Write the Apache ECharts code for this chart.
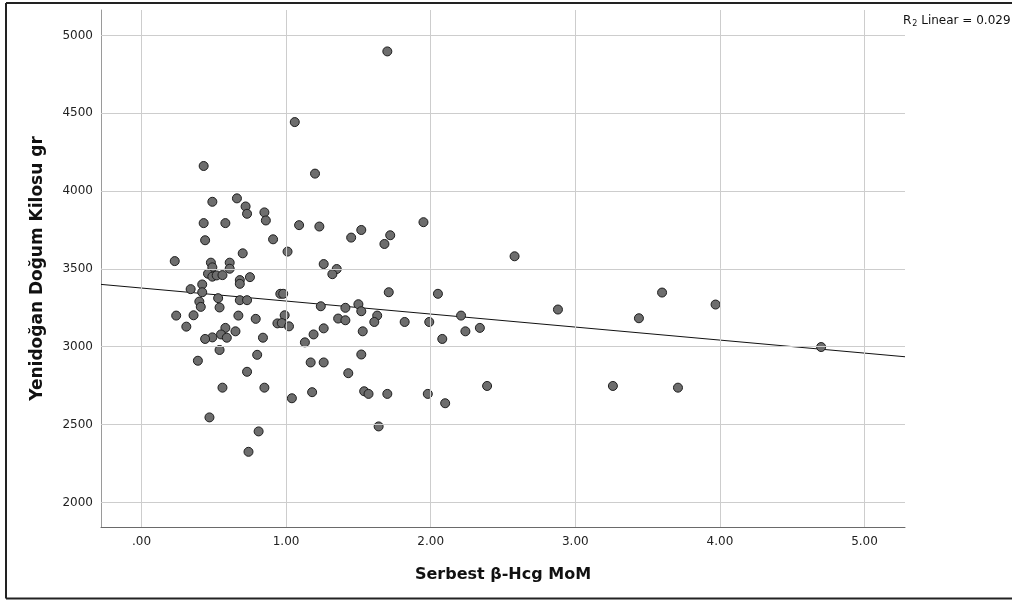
<!DOCTYPE html>
<html>
<head>
<meta charset="utf-8">
<script src="https://cdn.jsdelivr.net/npm/echarts@6/dist/echarts.min.js"></script>
<style>
html,body{margin:0;padding:0;background:#fff;}
#chart{width:1012px;height:601px;}
</style>
</head>
<body>
<div id="chart"></div>
<script>
// ---- data ----
const xVals = [0.43,0.49,0.66,0.72,0.73,0.85,0.86,0.43,0.58,0.44,0.91,0.70,0.23,0.48,0.49,0.61,0.61,0.46,0.49,0.52,
  0.56,0.68,0.68,0.75,0.34,0.42,0.42,0.53,0.40,0.41,0.54,0.68,0.73,0.24,0.36,0.67,0.79,0.31,0.58,0.55,
  0.59,0.49,0.44,0.65,0.84,0.54,0.80,0.39,0.73,0.56,0.85,0.47,0.81,0.74,1.06,1.20,1.09,1.23,1.45,1.52,
  1.68,1.72,1.95,1.01,1.26,1.35,1.32,0.96,0.98,1.71,2.05,1.24,1.41,1.50,1.52,1.63,1.61,1.82,1.99,0.99,
  0.94,0.97,1.02,1.36,1.41,1.26,1.19,1.13,1.53,1.17,1.26,1.52,1.43,1.18,1.04,1.54,1.57,1.70,1.98,1.64,
  2.58,2.21,2.24,2.34,2.08,2.88,3.44,3.60,3.97,4.70,2.10,2.39,3.26,3.71,1.70];
const yVals = [4161,3931,3953,3901,3854,3863,3811,3794,3794,3684,3690,3600,3550,3540,3510,3540,3501,3469,3450,3458,
  3460,3428,3404,3447,3370,3400,3350,3312,3290,3256,3252,3299,3299,3200,3202,3200,3179,3129,3121,3079,
  3058,3060,3050,3099,3058,2979,2948,2910,2839,2737,2737,2546,2456,2325,4443,4112,3781,3772,3701,3750,
  3660,3716,3800,3611,3531,3499,3466,3340,3340,3350,3340,3260,3250,3273,3228,3200,3159,3159,3159,3202,
  3150,3152,3131,3181,3170,3118,3079,3028,3099,2899,2899,2950,2830,2708,2669,2714,2697,2697,2697,2488,
  3581,3200,3099,3121,3050,3239,3183,3348,3271,2998,2637,2748,2748,2737,4897];
const xTicks = [0,1,2,3,4,5];
const xTickLabels = ['.00','1.00','2.00','3.00','4.00','5.00'];
const yTicks = [2000,2500,3000,3500,4000,4500,5000];
const xRange = [-0.28, 5.28];
const yRange = [1842, 5163];
const fitIntercept = 3377;
const fitSlope = -83.6;
const r2Text = '0.029';
const xTitle = 'Serbest β-Hcg MoM';
const yTitle = 'Yenidoğan Doğum Kilosu gr';

// ---- build ----
const points = xVals.map((x, i) => [x, yVals[i]]);
const fitLine = xRange.map(x => [x, fitIntercept + fitSlope * x]);
const FONT = 'DejaVu Sans';

const chart = echarts.init(document.getElementById('chart'), null, {renderer: 'canvas'});
chart.setOption({
  animation: false,
  backgroundColor: '#fff',
  grid: {left: 101, right: 107, top: 10, bottom: 74, containLabel: false},
  xAxis: {
    type: 'value', min: xRange[0], max: xRange[1],
    axisLine: {show: true, onZero: false, lineStyle: {color: '#6a6a6a', width: 1}},
    axisTick: {show: false},
    splitLine: {show: false},
    axisLabel: {
      customValues: xTicks,
      margin: 9,
      fontFamily: FONT, fontSize: 12, color: '#222',
      formatter: v => { const i = xTicks.indexOf(v); return i >= 0 ? xTickLabels[i] : ''; }
    },
    name: xTitle, nameLocation: 'middle', nameGap: 40,
    nameTextStyle: {fontFamily: FONT, fontSize: 16, fontWeight: 'bold', color: '#111'}
  },
  yAxis: {
    type: 'value', min: yRange[0], max: yRange[1],
    axisLine: {show: true, onZero: false, lineStyle: {color: '#9a9a9a', width: 1}},
    axisTick: {show: false},
    splitLine: {show: false},
    axisLabel: {
      customValues: yTicks,
      margin: 8,
      fontFamily: FONT, fontSize: 12, color: '#222',
      formatter: v => String(v)
    },
    name: yTitle, nameLocation: 'middle', nameGap: 55, nameRotate: 90,
    nameTextStyle: {fontFamily: FONT, fontSize: 17, fontWeight: 'bold', color: '#111'}
  },
  series: [
    {
      type: 'line', data: [], silent: true, z: 1,
      markLine: {
        silent: true, symbol: 'none', animation: false,
        label: {show: false},
        lineStyle: {color: '#cdcdcd', type: 'solid', width: 1},
        data: xTicks.map(v => ({xAxis: v})).concat(yTicks.map(v => ({yAxis: v})))
      }
    },
    {
      type: 'line', data: fitLine, z: 3, silent: true,
      symbol: 'none', lineStyle: {color: '#111', width: 1}
    },
    {
      type: 'scatter', data: points, z: 4,
      symbol: 'circle', symbolSize: 9,
      itemStyle: {color: '#6d6d6d', borderColor: '#1e1e1e', borderWidth: 1, opacity: 1}
    }
  ],
  graphic: [
    {type: 'line', shape: {x1: 6, y1: 3, x2: 1012, y2: 3}, style: {stroke: '#222', lineWidth: 2}, z: 10},
    {type: 'line', shape: {x1: 6, y1: 3, x2: 6, y2: 598.5}, style: {stroke: '#222', lineWidth: 2}, z: 10},
    {type: 'line', shape: {x1: 6, y1: 598.5, x2: 1012, y2: 598.5}, style: {stroke: '#222', lineWidth: 2}, z: 10},
    {
      type: 'text', left: 903, top: 13, z: 10,
      style: {
        text: '{a|R}{b|2}{a| Linear = ' + r2Text + '}',
        rich: {
          a: {fontFamily: FONT, fontSize: 12, fill: '#111', lineHeight: 16},
          b: {fontFamily: FONT, fontSize: 8, fill: '#111', lineHeight: 16, padding: [7, 0, 0, 1]}
        }
      }
    }
  ]
});
</script>
</body>
</html>
